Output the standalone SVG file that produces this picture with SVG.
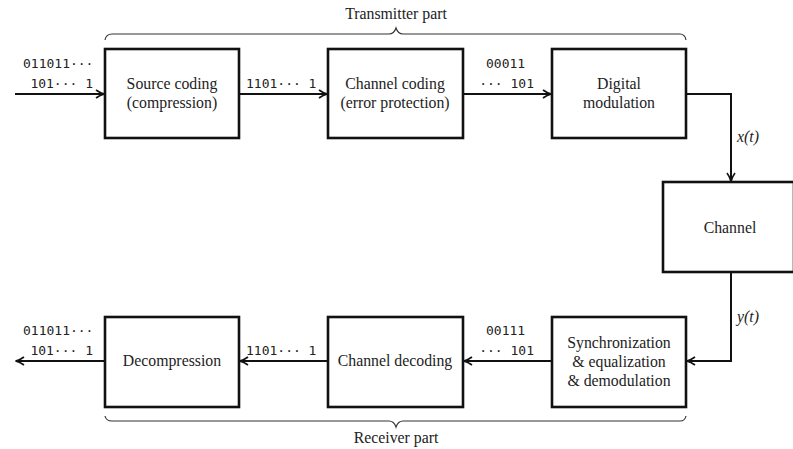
<svg xmlns="http://www.w3.org/2000/svg" width="793" height="449" viewBox="0 0 793 449">
<style>
.box{fill:#fff;stroke:#111;stroke-width:2.6}
.t{font-family:"Liberation Serif","Times New Roman",serif;font-size:15.8px;fill:#222;text-anchor:middle}
.m{font-family:"DejaVu Sans Mono","Liberation Mono",monospace;font-size:13px;fill:#222}
.c{fill:none;stroke:#111;stroke-width:2}
.b{fill:none;stroke:#333;stroke-width:1.2}
.i{font-family:"Liberation Serif","Times New Roman",serif;font-size:15.8px;fill:#222;font-style:italic}
</style>
<defs>
<marker id="ah" viewBox="0 0 10 10" refX="9" refY="5" markerWidth="10" markerHeight="10" markerUnits="userSpaceOnUse" orient="auto">
<path d="M1,1 Q5,4 9.5,5 Q5,6 1,9" fill="none" stroke="#111" stroke-width="1.6"/>
</marker>
</defs>
<g id="braces">
<path class="b" d="M105,40 Q106,34 112,34 L389,34 Q394,34 396,28 Q398,34 403,34 L680,34 Q685,34 686,40"/>
<text class="t" x="396" y="19">Transmitter part</text>
<path class="b" d="M105,416 Q106,421 112,421 L389,421 Q394,421 396,427 Q398,421 403,421 L680,421 Q685,421 686,416"/>
<text class="t" x="396" y="443">Receiver part</text>
</g>
<g id="connectors">
<line class="c" x1="15" y1="94" x2="104" y2="94" marker-end="url(#ah)"/>
<line class="c" x1="239" y1="94" x2="327" y2="94" marker-end="url(#ah)"/>
<line class="c" x1="463" y1="94" x2="551" y2="94" marker-end="url(#ah)"/>
<polyline class="c" points="686,94 731,94 731,181" marker-end="url(#ah)"/>
<polyline class="c" points="731,272 731,361 687,361" marker-end="url(#ah)"/>
<line class="c" x1="552" y1="361" x2="464" y2="361" marker-end="url(#ah)"/>
<line class="c" x1="328" y1="361" x2="240" y2="361" marker-end="url(#ah)"/>
<line class="c" x1="105" y1="361" x2="16" y2="361" marker-end="url(#ah)"/>
</g>
<g id="labels">
<text class="m" x="23" y="68">011011···</text>
<text class="m" x="93" y="88" text-anchor="end">101··· 1</text>
<text class="m" x="246" y="88">1101··· 1</text>
<text class="m" x="486" y="68">00011</text>
<text class="m" x="534" y="88" text-anchor="end">··· 101</text>
<text class="i" x="737" y="142">x(t)</text>
<text class="i" x="737" y="322">y(t)</text>
<text class="m" x="486" y="335">00111</text>
<text class="m" x="534" y="355" text-anchor="end">··· 101</text>
<text class="m" x="246" y="355">1101··· 1</text>
<text class="m" x="23" y="335">011011···</text>
<text class="m" x="93" y="355" text-anchor="end">101··· 1</text>
</g>
<g id="source-coding">
<rect class="box" x="105" y="49" width="134" height="89"/>
<text class="t" x="172" y="89">Source coding</text>
<text class="t" x="172" y="108">(compression)</text>
</g>
<g id="channel-coding">
<rect class="box" x="328" y="49" width="135" height="89"/>
<text class="t" x="395" y="89">Channel coding</text>
<text class="t" x="395" y="108">(error protection)</text>
</g>
<g id="digital-modulation">
<rect class="box" x="552" y="49" width="134" height="89"/>
<text class="t" x="619" y="89">Digital</text>
<text class="t" x="619" y="108">modulation</text>
</g>
<g id="channel">
<rect class="box" x="663" y="182" width="131" height="90"/>
<text class="t" x="730" y="233">Channel</text>
</g>
<g id="sync">
<rect class="box" x="552" y="317" width="134" height="90"/>
<text class="t" x="619" y="348">Synchronization</text>
<text class="t" x="619" y="367">&amp; equalization</text>
<text class="t" x="619" y="386">&amp; demodulation</text>
</g>
<g id="channel-decoding">
<rect class="box" x="328" y="317" width="135" height="90"/>
<text class="t" x="395" y="366">Channel decoding</text>
</g>
<g id="decompression">
<rect class="box" x="105" y="317" width="134" height="90"/>
<text class="t" x="172" y="366">Decompression</text>
</g>
</svg>
